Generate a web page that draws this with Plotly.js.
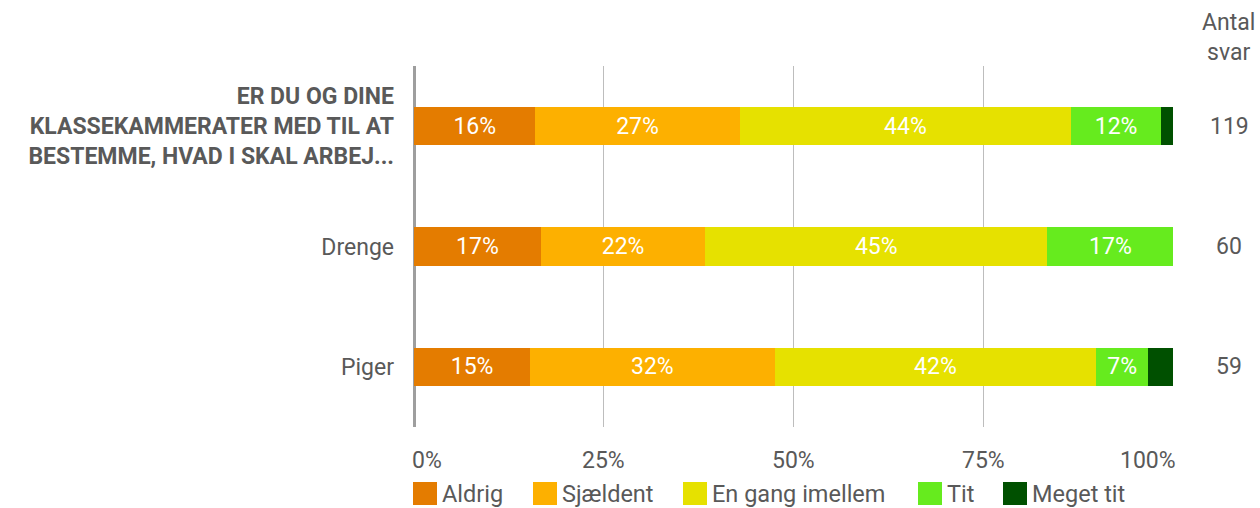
<!DOCTYPE html>
<html><head><meta charset="utf-8">
<script src="https://cdn.plot.ly/plotly-3.0.1.min.js"></script>
<style>html,body{margin:0;padding:0;background:#fff;}#chart{width:1260px;height:508px;}</style>
</head><body><div id="chart"></div>
<script>
const categories = ['ER DU OG DINE KLASSEKAMMERATER MED TIL AT BESTEMME, HVAD I SKAL ARBEJ...', 'Drenge', 'Piger'];
const categoryLabels = ['<b>ER DU OG DINE<br>KLASSEKAMMERATER MED TIL AT<br>BESTEMME, HVAD I SKAL ARBEJ...</b>', 'Drenge', 'Piger'];
const seriesNames = ['Aldrig', 'Sjældent', 'En gang imellem', 'Tit', 'Meget tit'];
const aldrig = [16.0, 16.7, 15.3];
const sjaeldent = [26.9, 21.7, 32.2];
const enGang = [43.7, 45.0, 42.4];
const tit = [11.8, 16.7, 6.8];
const megetTit = [1.7, 0, 3.4];
const antalSvar = [119, 60, 59];
const xTickValues = [0, 25, 50, 75, 100];
const xTickLabels = ['0%', '25%', '50%', '75%', '100%'];
const countHeader = 'Antal<br>svar';

const colors = ['#E47C00', '#FDB000', '#E6E100', '#66EB1E', '#005000'];
const seriesValues = [aldrig, sjaeldent, enGang, tit, megetTit];
const showText = [true, true, true, true, false];
const FONT = 'Roboto, "Open Sans", sans-serif';
const GREY = '#595959';

const traces = seriesValues.map((vals, i) => ({
  type: 'bar', orientation: 'h', name: seriesNames[i],
  y: categories, x: vals,
  marker: {color: colors[i], line: {width: 0}},
  text: showText[i] ? vals.map(v => v > 0 ? Math.round(v) + '%' : '') : vals.map(() => ''),
  textposition: 'inside', insidetextanchor: 'middle', constraintext: 'none',
  textfont: {color: '#ffffff', size: 23, family: FONT},
  hoverinfo: 'none', showlegend: false
}));

// plot area in pixels
const L = 414, R = 1173, T = 66, B = 427, W = 1260, H = 508;
const px = x => (x - L) / (R - L);
const py = y => (B - y) / (B - T);

const annotations = [];
antalSvar.forEach((n, i) => annotations.push({
  xref: 'paper', yref: 'y', x: px(1229), y: categories[i], text: String(n),
  showarrow: false, xanchor: 'center', yanchor: 'middle',
  font: {family: FONT, size: 23, color: GREY}
}));
annotations.push({xref: 'paper', yref: 'paper', x: px(1228), y: py(37), text: countHeader,
  showarrow: false, xanchor: 'center', yanchor: 'middle', align: 'center',
  font: {family: FONT, size: 23, color: GREY}});
xTickValues.forEach((v, i) => {
  let anchor = 'center', shift = 0;
  if (i === 0) { anchor = 'left'; shift = -4; }
  if (i === xTickValues.length - 1) { anchor = 'right'; shift = 5; }
  annotations.push({xref: 'x', yref: 'paper', x: v, y: py(460), text: xTickLabels[i],
    showarrow: false, xanchor: anchor, yanchor: 'middle', xshift: shift,
    font: {family: FONT, size: 23, color: GREY}});
});

// custom legend
const shapes = [];
const legendX = [413, 533, 683, 918, 1003];
seriesNames.forEach((name, i) => {
  shapes.push({type: 'rect', xref: 'paper', yref: 'paper',
    x0: px(legendX[i]), x1: px(legendX[i] + 24), y0: py(505), y1: py(482),
    fillcolor: colors[i], line: {width: 0}, layer: 'above'});
  annotations.push({xref: 'paper', yref: 'paper', x: px(legendX[i] + 27), y: py(494),
    text: name, showarrow: false, xanchor: 'left', yanchor: 'middle',
    font: {family: FONT, size: 23.5, color: GREY}});
});

const layout = {
  width: W, height: H, barmode: 'stack', bargap: 0.68,
  margin: {l: L, r: W - R, t: T, b: H - B, pad: 0},
  paper_bgcolor: '#ffffff', plot_bgcolor: '#ffffff',
  showlegend: false,
  font: {family: FONT, color: GREY},
  xaxis: {range: [0, 100], tickvals: xTickValues, showticklabels: false,
    showgrid: true, gridcolor: '#bdbdbd', gridwidth: 1,
    zeroline: true, zerolinecolor: '#9e9e9e', zerolinewidth: 3,
    showline: false, ticks: '', fixedrange: true},
  yaxis: {type: 'category', autorange: 'reversed', tickvals: categories, ticktext: categoryLabels,
    tickfont: {family: FONT, size: 23, color: GREY}, ticks: '', ticklen: 0, ticklabelstandoff: 19,
    showgrid: false, zeroline: false, showline: false, automargin: false, fixedrange: true},
  annotations: annotations, shapes: shapes
};
Plotly.newPlot('chart', traces, layout, {displayModeBar: false, staticPlot: true});
</script></body></html>
